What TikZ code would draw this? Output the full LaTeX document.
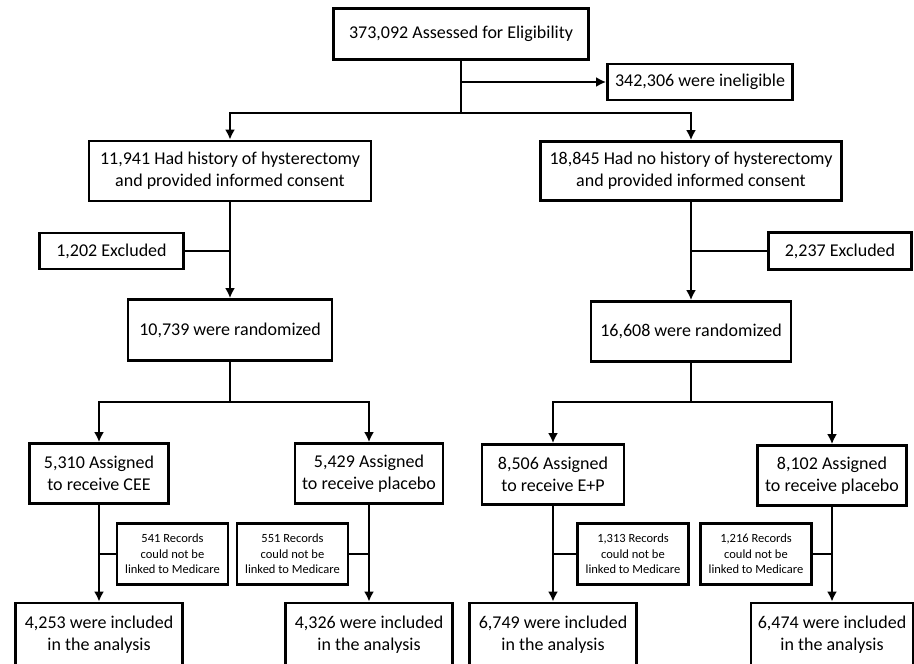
\documentclass[tikz,border=0pt]{standalone}
\usepackage{fontspec}
\setmainfont{Carlito}
\usetikzlibrary{arrows.meta}

\begin{document}
\begin{tikzpicture}[x=1pt,y=-1pt,>={Latex[length=10pt,width=10pt]},line width=2.8pt,
  box/.style={draw,rectangle,align=center,inner sep=2pt,
    font=\fontsize{18}{22}\selectfont},
  recbox/.style={draw,rectangle,align=center,inner sep=2pt,
    minimum width=111pt,minimum height=61pt,
    font=\fontsize{12.5}{15.5}\selectfont}]
  \useasboundingbox (0,0) rectangle (914,664);
  \clip (0,0) rectangle (914,664);

  % top of the chart
  \node[box,minimum width=255pt,minimum height=51pt] (elig) at (461,34) {373,092 Assessed for Eligibility};
  \node[box,minimum width=185pt,minimum height=36pt] (inelig) at (700,82) {342,306 were ineligible};
  \coordinate (j0) at (461,82);
  \coordinate (j1) at (461,113);
  \draw (elig) -- (j1);
  \draw[->] (j0) -- (inelig);

  \node[box,minimum width=282pt,minimum height=60pt] (hyst) at (230,171) {11,941 Had history of hysterectomy\\and provided informed consent};
  \node[box,minimum width=301pt,minimum height=59pt] (nohyst) at (691,171) {18,845 Had no history of hysterectomy\\and provided informed consent};
  \draw[->] (j1) -| (hyst);
  \draw[->] (j1) -| (nohyst);

  \node[box,minimum width=144pt,minimum height=36pt] (exclL) at (111.5,251) {1,202 Excluded};
  \node[box,minimum width=143pt,minimum height=37pt] (exclR) at (840,251) {2,237 Excluded};
  \node[box,minimum width=204pt,minimum height=61pt] (randL) at (230,330) {10,739 were randomized};
  \node[box,minimum width=200pt,minimum height=60pt] (randR) at (691,331.5) {16,608 were randomized};
  \draw[->] (hyst) -- (randL);
  \draw (exclL) -- (exclL -| hyst);
  \draw[->] (nohyst) -- (randR);
  \draw (exclR) -- (exclR -| nohyst);

  % assigned arms
  \coordinate (j2) at (230,402);
  \coordinate (j3) at (691,402);
  \node[box,minimum width=139pt,minimum height=60pt] (cee) at (99,473.5) {5,310 Assigned\\to receive CEE};
  \node[box,minimum width=148pt,minimum height=60pt] (plaL) at (369,473.5) {5,429 Assigned\\to receive placebo};
  \node[box,minimum width=142pt,minimum height=60pt] (ep) at (553,474.5) {8,506 Assigned\\to receive E+P};
  \node[box,minimum width=149pt,minimum height=60pt] (plaR) at (832,475.5) {8,102 Assigned\\to receive placebo};
  \draw (randL) -- (j2);
  \draw[->] (j2) -| (cee);
  \draw[->] (j2) -| (plaL);
  \draw (randR) -- (j3);
  \draw[->] (j3) -| (ep);
  \draw[->] (j3) -| (plaR);

  % records not linked
  \node[recbox] (recCEE) at (172.5,554) {541 Records\\could not be\\linked to Medicare};
  \node[recbox] (recPlaL) at (292.5,554) {551 Records\\could not be\\linked to Medicare};
  \node[recbox] (recEP) at (633,554) {1,313 Records\\could not be\\linked to Medicare};
  \node[recbox] (recPlaR) at (756,554) {1,216 Records\\could not be\\linked to Medicare};

  \node[box,minimum width=167pt,minimum height=64pt] (inclCEE) at (99,635) {4,253 were included\\in the analysis};
  \node[box,minimum width=167pt,minimum height=64pt] (inclPlaL) at (369,635) {4,326 were included\\in the analysis};
  \node[box,minimum width=167pt,minimum height=64pt] (inclEP) at (553,635) {6,749 were included\\in the analysis};
  \node[box,minimum width=162pt,minimum height=64pt] (inclPlaR) at (832,635) {6,474 were included\\in the analysis};

  \draw[->] (cee) -- (inclCEE);
  \draw (recCEE) -- (recCEE -| cee);
  \draw[->] (plaL) -- (inclPlaL);
  \draw (recPlaL) -- (recPlaL -| plaL);
  \draw[->] (ep) -- (inclEP);
  \draw (recEP) -- (recEP -| ep);
  \draw[->] (plaR) -- (inclPlaR);
  \draw (recPlaR) -- (recPlaR -| plaR);
\end{tikzpicture}
\end{document}
